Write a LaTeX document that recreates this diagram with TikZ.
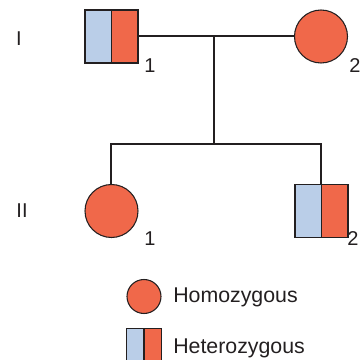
\documentclass[tikz,border=0pt]{standalone}
\usepackage{fontspec}
\setmainfont{Liberation Sans}
\definecolor{homred}{RGB}{240,104,74}
\definecolor{hetblue}{RGB}{186,206,232}
\definecolor{ink}{RGB}{35,31,32}
\begin{document}
\begin{tikzpicture}
[x=0.75pt,y=-0.75pt,
 every node/.style={inner sep=0pt,text=ink,font=\fontsize{15}{18}\selectfont},
 homo/.style={circle,draw=ink,line width=.8pt,fill=homred,minimum size=39.75pt},
 hetero/.style={rectangle,draw=ink,line width=.8pt,fill=homred,minimum size=39.75pt,
   path picture={\fill[hetblue] (path picture bounding box.south west) rectangle (path picture bounding box.north);
                 \draw[ink,line width=.8pt] (path picture bounding box.south) -- (path picture bounding box.north);}},
 key/.style={font=\fontsize{16}{19}\selectfont,anchor=base west}]
\useasboundingbox (0,0) rectangle (362,360);
% generation I
\node[hetero] (I1) at (111.5,36.5) {};
\node[homo] (I2) at (321,36.5) {};
% generation II
\node[homo] (II1) at (111.5,211) {};
\node[hetero] (II2) at (321.5,211) {};
\coordinate (m) at (214,36.5);
\coordinate (s) at (214,144);
\draw[ink,line width=1.5pt] (I1) -- (I2);
\draw[ink,line width=1.5pt] (m) -- (s);
\draw[ink,line width=1.5pt] (II1.north) |- (s) -| (II2.north);
% numbers
\node[anchor=base] (gI) at (19,46) {I};
\node[anchor=base] (gII) at (22,218) {II};
\node[anchor=base west] (nI1) at (144,73) {1};
\node[anchor=base west] (nI2) at (349,73) {2};
\node[anchor=base west] (nII1) at (144,246) {1};
\node[anchor=base west] (nII2) at (347,246) {2};
% key
\node[homo,minimum size=25.5pt] (khom) at (144,296.5) {};
\node[hetero,minimum size=26.5pt] (khet) at (144,346.5) {};
\node[key] (thom) at (173,303) {Homozygous};
\node[key] (thet) at (173,354) {Heterozygous};
\end{tikzpicture}
\end{document}
